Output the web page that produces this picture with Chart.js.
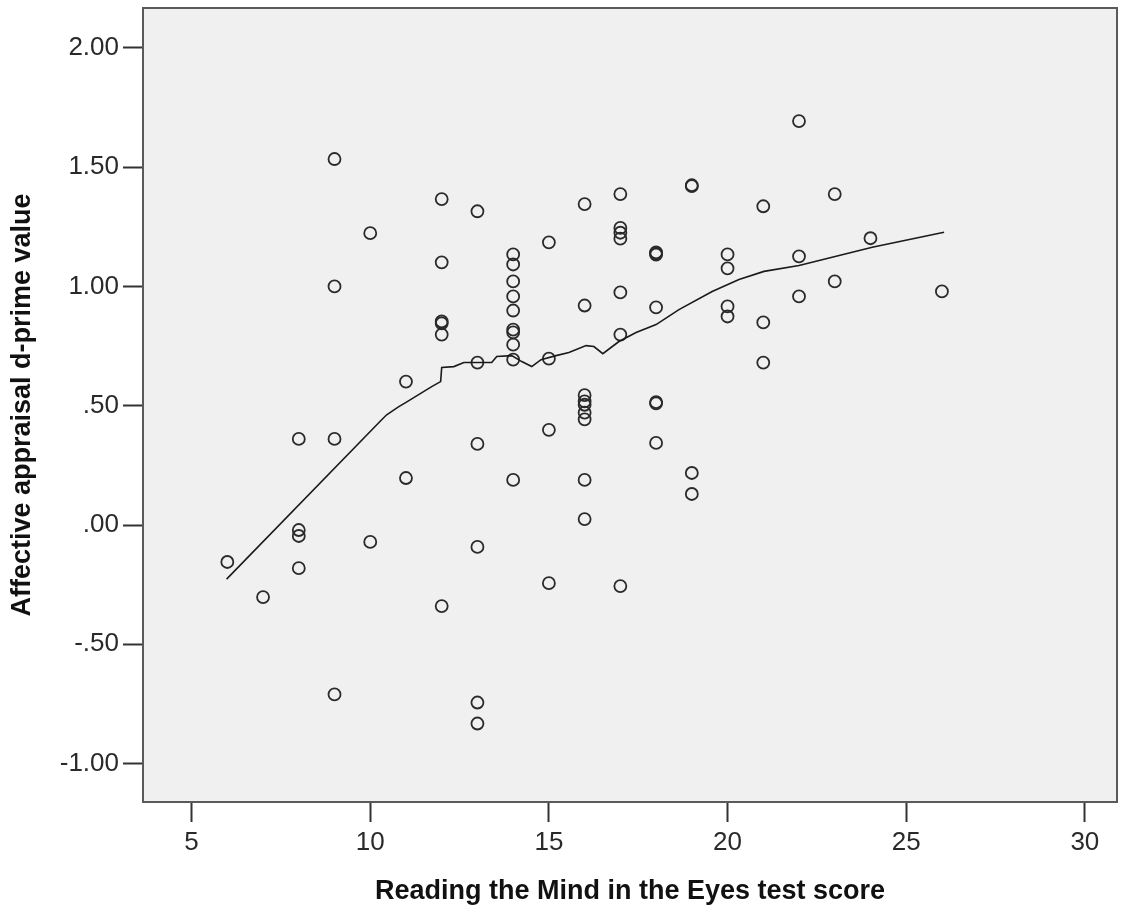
<!DOCTYPE html>
<html>
<head>
<meta charset="utf-8">
<script src="https://cdn.jsdelivr.net/npm/chart.js@4.4.1/dist/chart.umd.min.js"></script>
<style>
  html, body { margin: 0; padding: 0; background: #ffffff; }
  #wrap { width: 1131px; height: 913px; position: relative; }
</style>
</head>
<body>
<div id="wrap"><canvas id="c" width="1131" height="913"></canvas></div>
<script>
// ---- data ----
const scoreX = [
  6,
  7,
  8, 8, 8, 8,
  9, 9, 9, 9,
  10, 10,
  11, 11,
  12, 12, 12, 12, 12, 12,
  13, 13, 13, 13, 13, 13,
  14, 14, 14, 14, 14, 14, 14, 14, 14, 14,
  15, 15, 15, 15,
  16, 16, 16, 16, 16, 16, 16, 16, 16,
  17, 17, 17, 17, 17, 17, 17,
  18, 18, 18, 18, 18, 18, 18,
  19, 19, 19, 19,
  20, 20, 20, 20,
  21, 21, 21,
  22, 22, 22,
  23, 23,
  24,
  26
];
const dprimeY = [
  -0.155,
  -0.302,
  0.361, -0.021, -0.046, -0.181,
  1.534, 1.000, 0.361, -0.710,
  1.223, -0.071,
  0.601, 0.197,
  1.366, 1.101, 0.853, 0.845, 0.798, -0.340,
  1.315, 0.681, 0.340, -0.092, -0.744, -0.832,
  1.134, 1.092, 1.021, 0.958, 0.899, 0.819, 0.807, 0.756, 0.693, 0.189,
  1.185, 0.697, 0.399, -0.244,
  1.345, 0.920, 0.544, 0.518, 0.504, 0.471, 0.443, 0.189, 0.025,
  1.387, 1.245, 1.225, 1.200, 0.975, 0.798, -0.256,
  1.143, 1.138, 1.133, 0.912, 0.515, 0.510, 0.344,
  1.424, 1.420, 0.218, 0.130,
  1.134, 1.076, 0.916, 0.874,
  1.336, 0.849, 0.681,
  1.693, 1.126, 0.958,
  1.387, 1.021,
  1.202,
  0.979
];
// fit line
const fitX = [5.98, 10.32, 10.46, 10.80, 10.99, 11.72, 11.97, 12.00, 12.34, 12.62, 13.04, 13.40, 13.54, 13.96, 14.24, 14.52, 14.78, 15.20, 15.56, 16.04, 16.26, 16.51, 16.96, 17.44, 18.00, 18.64, 19.57, 20.32, 21.02, 22.00, 24.05, 26.06];
const fitY = [-0.227, 0.441, 0.462, 0.496, 0.513, 0.580, 0.601, 0.660, 0.664, 0.681, 0.681, 0.681, 0.706, 0.710, 0.685, 0.664, 0.693, 0.710, 0.723, 0.752, 0.748, 0.718, 0.769, 0.807, 0.840, 0.903, 0.979, 1.029, 1.063, 1.088, 1.164, 1.227];

const xTicks = [5, 10, 15, 20, 25, 30];
const yTicks = [-1.0, -0.5, 0.0, 0.5, 1.0, 1.5, 2.0];
const yTickLabels = ['-1.00', '-.50', '.00', '.50', '1.00', '1.50', '2.00'];

const xTitle = 'Reading the Mind in the Eyes test score';
const yTitle = 'Affective appraisal d-prime value';

// ---- chart ----
const FONT = "'Liberation Sans', Arial, sans-serif";

const framePlugin = {
  id: 'frame',
  beforeDatasetsDraw(chart) {
    const {ctx, chartArea: a} = chart;
    ctx.save();
    ctx.fillStyle = '#f0f0f0';
    ctx.fillRect(a.left, a.top, a.right - a.left, a.bottom - a.top);
    ctx.restore();
  },
  afterDraw(chart) {
    const {ctx, chartArea: a} = chart;
    ctx.save();
    ctx.strokeStyle = '#5a5a5a';
    ctx.lineWidth = 2;
    ctx.strokeRect(a.left, a.top, a.right - a.left, a.bottom - a.top);
    ctx.restore();
  }
};

new Chart(document.getElementById('c'), {
  type: 'scatter',
  data: {
    datasets: [
      {
        label: 'scores',
        data: scoreX.map((x, i) => ({x: x, y: dprimeY[i]})),
        pointStyle: 'circle',
        pointRadius: 6,
        pointBorderWidth: 1.8,
        pointBorderColor: '#2a2a2a',
        pointBackgroundColor: 'rgba(0,0,0,0)',
        showLine: false,
        order: 2
      },
      {
        label: 'fit',
        data: fitX.map((x, i) => ({x: x, y: fitY[i]})),
        showLine: true,
        borderColor: '#1a1a1a',
        borderWidth: 1.6,
        pointRadius: 0,
        tension: 0,
        fill: false,
        order: 1
      }
    ]
  },
  options: {
    responsive: false,
    animation: false,
    devicePixelRatio: 1,
    layout: { padding: { left: 0, top: 8, right: 14, bottom: 0 } },
    plugins: {
      legend: { display: false },
      tooltip: { enabled: false },
      title: { display: false }
    },
    scales: {
      x: {
        type: 'linear',
        min: 3.64,
        max: 30.9,
        afterBuildTicks: s => { s.ticks = xTicks.map(v => ({value: v})); },
        afterFit: s => { s.height = 111; s.paddingLeft = 0; s.paddingRight = 0; },
        grid: {
          display: true,
          drawOnChartArea: false,
          drawTicks: true,
          tickLength: 20,
          tickWidth: 2,
          tickColor: '#333333'
        },
        border: { display: false },
        ticks: {
          padding: 5,
          color: '#2a2a2a',
          font: { family: FONT, size: 26 },
          maxRotation: 0,
          callback: v => String(v)
        },
        title: {
          display: true,
          text: xTitle,
          color: '#111111',
          font: { family: FONT, size: 27, weight: 'bold' },
          padding: { top: 0, bottom: 5 }
        }
      },
      y: {
        type: 'linear',
        min: -1.161,
        max: 2.167,
        afterBuildTicks: s => { s.ticks = yTicks.map(v => ({value: v})); },
        afterFit: s => { s.width = 143; s.paddingTop = 0; s.paddingBottom = 0; },
        grid: {
          display: true,
          drawOnChartArea: false,
          drawTicks: true,
          tickLength: 20,
          tickWidth: 2,
          tickColor: '#333333'
        },
        border: { display: false },
        ticks: {
          padding: 4,
          color: '#2a2a2a',
          font: { family: FONT, size: 26 },
          callback: function (v) {
            const i = yTicks.findIndex(t => Math.abs(t - v) < 1e-9);
            return i >= 0 ? yTickLabels[i] : '';
          }
        },
        title: {
          display: true,
          text: yTitle,
          color: '#111111',
          font: { family: FONT, size: 27, weight: 'bold' },
          padding: { top: 6, bottom: 0 }
        }
      }
    }
  },
  plugins: [framePlugin]
});
</script>
</body>
</html>
